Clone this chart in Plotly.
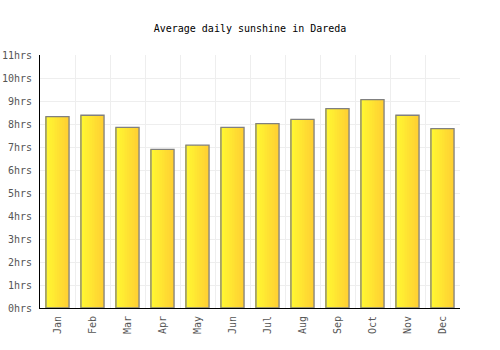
import plotly.graph_objects as go

months = ["Jan", "Feb", "Mar", "Apr", "May", "Jun", "Jul", "Aug", "Sep", "Oct", "Nov", "Dec"]
sunshine = [8.32, 8.38, 7.85, 6.90, 7.08, 7.85, 8.02, 8.20, 8.67, 9.06, 8.38, 7.80]
y_ticks = list(range(0, 12))
y_labels = [f"{v}hrs" for v in y_ticks]

bar_w = 0.66
n_slices = 14
c0 = (255, 248, 50)
c1 = (255, 208, 50)

fig = go.Figure()
sw = bar_w / n_slices
for i in range(n_slices):
    t = i / (n_slices - 1)
    col = tuple(round(c0[k] + (c1[k] - c0[k]) * t) for k in range(3))
    fig.add_trace(go.Bar(
        x=months, y=sunshine,
        width=sw * 1.05, offset=-bar_w / 2 + i * sw,
        marker=dict(color=f"rgb{col}", line=dict(width=0)),
        hoverinfo="skip", showlegend=False,
    ))
fig.add_trace(go.Bar(
    x=months, y=sunshine, width=bar_w, offset=-bar_w / 2,
    marker=dict(color="rgba(0,0,0,0)", line=dict(color="#808080", width=1.3)),
    showlegend=False,
))

font = "DejaVu Sans Mono"
fig.update_layout(
    width=500, height=350,
    barmode="overlay",
    paper_bgcolor="white", plot_bgcolor="white",
    margin=dict(l=40, r=40, t=55, b=42),
    title=dict(text="Average daily sunshine in Dareda", x=0.5, xanchor="center",
               y=1 - 28 / 350, yanchor="middle",
               font=dict(family=font, size=10, color="#000")),
    font=dict(family=font, size=10, color="#555"),
    xaxis=dict(type="category", tickson="boundaries", showgrid=True, gridcolor="#eeeeee",
               tickangle=-90, ticks="", showline=True, linecolor="#000", linewidth=1,
               automargin=False, ticklabelstandoff=3,
               tickfont=dict(family=font, size=10, color="#555")),
    yaxis=dict(range=[0, 11], tickvals=y_ticks, ticktext=y_labels, showgrid=True,
               gridcolor="#eeeeee", showline=True, linecolor="#000", linewidth=1,
               ticks="", zeroline=False, automargin=False, ticklabelstandoff=5,
               tickfont=dict(family=font, size=10, color="#555")),
)
fig.write_html("out.html")
